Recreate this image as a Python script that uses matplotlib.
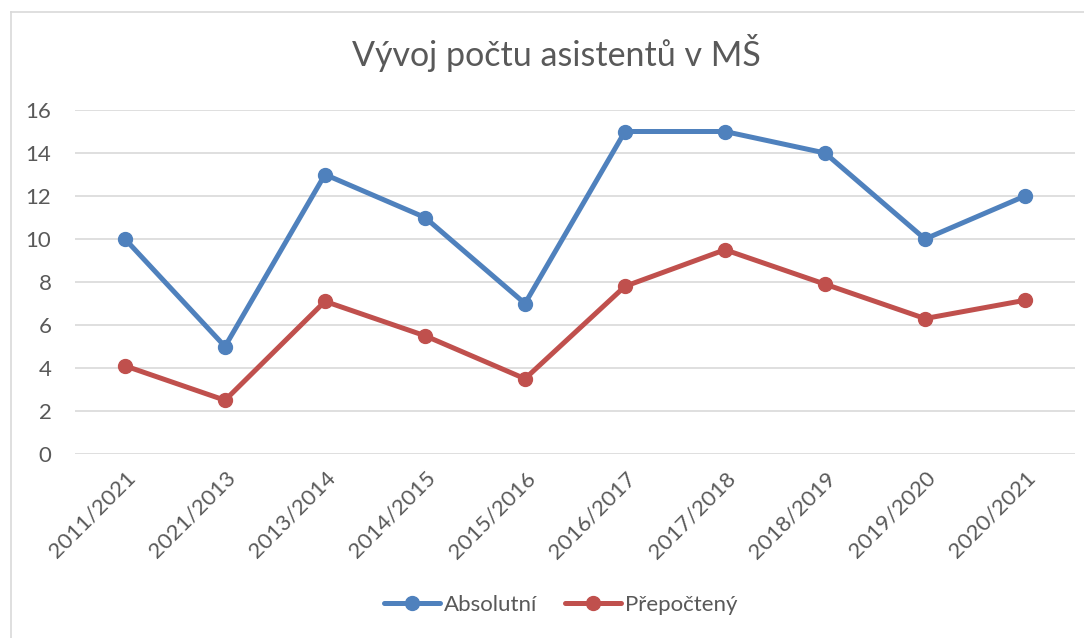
import matplotlib
matplotlib.use("Agg")
import matplotlib.pyplot as plt
from matplotlib.lines import Line2D

plt.rcParams['font.family'] = ['Lato', 'DejaVu Sans']

categories = ["2011/2021", "2021/2013", "2013/2014", "2014/2015", "2015/2016",
              "2016/2017", "2017/2018", "2018/2019", "2019/2020", "2020/2021"]
absolutni = [10, 5, 13, 11, 7, 15, 15, 14, 10, 12]
prepocteny = [4.1, 2.5, 7.1, 5.5, 3.5, 7.8, 9.5, 7.9, 6.3, 7.15]
yticks = [0, 2, 4, 6, 8, 10, 12, 14, 16]

title = "Vývoj počtu asistentů v MŠ"
series_names = ["Absolutní", "Přepočtený"]
colors = ["#4F81BD", "#C0504D"]
text_color = "#595959"

W, H = 1084, 638
fig = plt.figure(figsize=(W / 100, H / 100), dpi=100)

# chart border (left and top visible)
fig.add_artist(Line2D([11 / W, 11 / W], [0, 1 - 12 / H], color="#D9D9D9", lw=1.2))
fig.add_artist(Line2D([11 / W, 1], [1 - 12 / H, 1 - 12 / H], color="#D9D9D9", lw=1.2))

ax = fig.add_axes([75 / W, 1 - 454 / H, 1000 / W, 344 / H])
x = list(range(len(categories)))
for vals, name, c in zip([absolutni, prepocteny], series_names, colors):
    ax.plot(x, vals, color=c, lw=3.6, marker="o", markersize=10,
            label=name, solid_capstyle="round", zorder=3)

ax.set_xlim(-0.5, len(categories) - 0.5)
ax.set_ylim(0, 16)
ax.set_yticks(yticks)
ax.set_yticklabels([str(v) for v in yticks])
ax.set_xticks(x)
ax.set_xticklabels(categories, rotation=45, ha="right", va="top",
                   rotation_mode="anchor")
ax.tick_params(axis="both", length=0, labelsize=16, colors=text_color)
ax.tick_params(axis="y", pad=17)
ax.tick_params(axis="x", pad=10)
ax.grid(axis="y", color="#D9D9D9", lw=1.2, zorder=0)
for s in ax.spines.values():
    s.set_visible(False)

fig.text(556 / W, 1 - 53 / H, title, ha="center", va="center",
         fontsize=24.5, color=text_color)

fig.legend(loc="center", bbox_to_anchor=(561 / W, 1 - 605 / H), ncol=2,
           frameon=False, fontsize=16, labelcolor=text_color,
           handlelength=2.5, handletextpad=0.2, columnspacing=1.25)

fig.savefig("out.png", dpi=100)
